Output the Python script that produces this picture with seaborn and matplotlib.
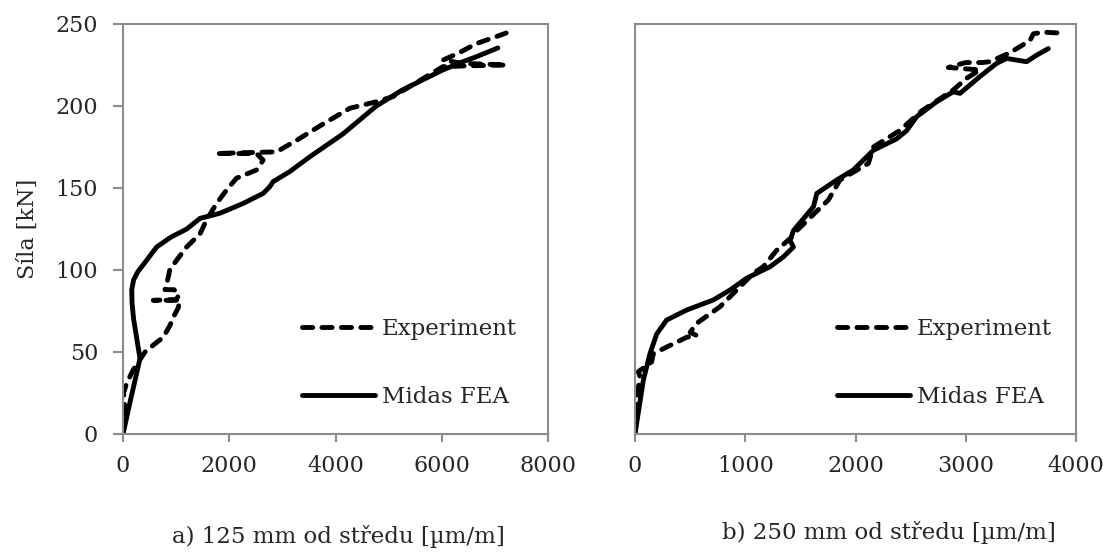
import numpy as np
import pandas as pd
import seaborn as sns
import matplotlib.pyplot as plt

# a) 125 mm od středu
x_exp_a = [0, 40, 10, 70, 190, 414, 600, 758, 880, 960, 1040, 1072, 570, 1000, 1060, 960,
           790, 840, 880, 1010, 1197, 1448, 1573, 1761, 1950, 2137, 2513, 2638, 2513, 1761,
           2200, 2889, 3264, 3765, 4268, 4768, 5082, 5395, 6022, 6500, 7213, 6400, 6022,
           6300, 6648, 7000, 7213]
y_exp_a = [0, 15, 25, 31, 39, 50, 55, 59, 66, 72, 77, 81.5, 81.5, 82, 85, 88,
           88, 94, 100, 106, 114, 122, 130.5, 140.6, 148.8, 156, 161, 167, 171, 171,
           171.5, 172, 179, 189, 198.6, 202.6, 205.7, 211.8, 224, 224.5, 225, 226, 228,
           232, 238, 242, 244.5]
x_fea_a = [0, 150, 320, 260, 200, 170, 165, 200, 280, 400, 633, 900, 1200, 1450, 1824,
           2262, 2638, 2763, 2826, 3139, 3515, 4142, 4768, 5270, 6022, 6398, 6648, 7056]
y_fea_a = [0, 22, 46, 58, 70, 80, 88, 94, 99, 104, 114, 120, 125, 131.5, 134.6,
           140.6, 146.7, 150.8, 153.9, 160, 169, 183, 200, 210, 222, 227, 230, 235.4]

# b) 250 mm od středu
x_exp_b = [0, 15, 45, 30, 151, 166, 287, 469, 560, 500, 560, 771, 862, 1073, 1164, 1285,
           1437, 1467, 1754, 1859, 2117, 2162, 2400, 2600, 2887, 3007, 3129, 2842, 3000,
           3150, 3220, 3402, 3583, 3613, 3700, 3855]
y_exp_b = [0, 21, 35, 38, 44, 49, 53, 59, 60, 62, 67.5, 77.6, 83.7, 98, 102, 112,
           121, 124, 142.7, 154.9, 165, 175, 185, 197, 209.8, 216.9, 222, 223.5, 226.5,
           226.5, 227, 232.5, 240, 244, 245, 244.5]
x_fea_b = [0, 76, 136, 197, 287, 469, 710, 862, 1013, 1225, 1346, 1437, 1406, 1437, 1619,
           1649, 1830, 1980, 2162, 2374, 2464, 2555, 2736, 2887, 2948, 3129, 3280, 3370,
           3552, 3643, 3749]
y_fea_b = [0, 33, 49, 61, 69.5, 75.6, 81.7, 87.8, 95, 102, 108, 114, 118, 124, 138.6,
           146.7, 154.9, 161, 173, 180, 185, 193.5, 202.6, 208.7, 207.7, 218, 226, 229,
           227, 231, 235]

x_labels = ["a) 125 mm od středu [µm/m]", "b) 250 mm od středu [µm/m]"]
y_label = "Síla [kN]"

sns.set_style("white")
plt.rcParams['font.family'] = ['DejaVu Serif']

fig = plt.figure(figsize=(11.07, 5.53), dpi=100)
W, H = 1107, 553
ax_a = fig.add_axes([123 / W, (H - 434) / H, 425 / W, 410 / H])
ax_b = fig.add_axes([635 / W, (H - 434) / H, 441 / W, 410 / H])

dash = (0, (2.1, 1.9))
panels = [
    (ax_a, x_exp_a, y_exp_a, x_fea_a, y_fea_a, 8000, 2000, 0.42),
    (ax_b, x_exp_b, y_exp_b, x_fea_b, y_fea_b, 4000, 1000, 0.458),
]

for ax, xe, ye, xf, yf, xmax, xstep, leg_x in panels:
    sns.lineplot(x=xe, y=ye, ax=ax, sort=False, estimator=None, color="black",
                 linewidth=3.5, linestyle=dash, dash_capstyle="round", label="Experiment")
    sns.lineplot(x=xf, y=yf, ax=ax, sort=False, estimator=None, color="black",
                 linewidth=3.5, solid_capstyle="round", label="Midas FEA")
    ax.set_xlim(0, xmax)
    ax.set_ylim(0, 250)
    ax.set_xticks(np.arange(0, xmax + 1, xstep))
    ax.set_yticks(np.arange(0, 251, 50))
    for s in ax.spines.values():
        s.set_color("#8c8c8c")
        s.set_linewidth(1.5)
    ax.tick_params(axis="x", direction="out", length=6, width=1.5, color="#8c8c8c",
                   labelsize=16, pad=9, bottom=True)
    ax.tick_params(axis="y", direction="out", length=7, width=1.5, color="#8c8c8c",
                   labelsize=16, pad=11, left=True)
    ax.legend(loc="center left", bbox_to_anchor=(leg_x, 0.173), frameon=False,
              fontsize=16.5, handlelength=3.2, handletextpad=0.3, labelspacing=2.0,
              borderpad=0, borderaxespad=0)
    ax.set_xlabel("")
    ax.set_ylabel("")

ax_b.tick_params(axis="y", left=False, labelleft=False)
ax_a.set_ylabel(y_label, fontsize=16, labelpad=12)

fig.text(338 / W, 1 - 536 / H, x_labels[0], ha="center", va="center", fontsize=16.5)
fig.text(889 / W, 1 - 533 / H, x_labels[1], ha="center", va="center", fontsize=16.5)

fig.savefig("out.png", dpi=100)
